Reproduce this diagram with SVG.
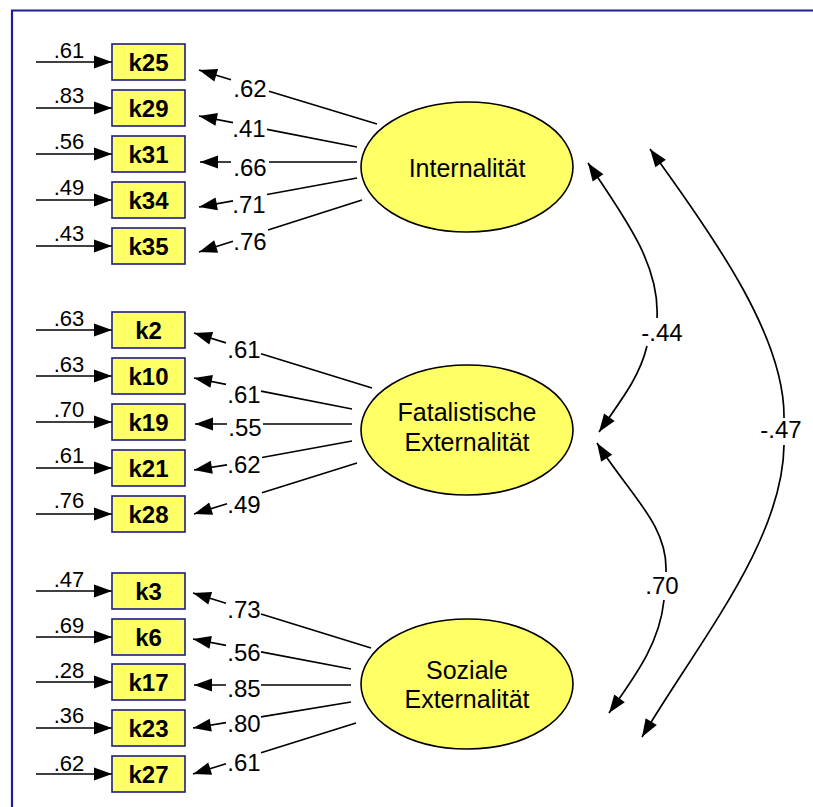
<svg xmlns="http://www.w3.org/2000/svg" width="813" height="807" viewBox="0 0 813 807">
<style>
.frame{fill:none;stroke:#1f1f9c;stroke-width:2.2}
.box{fill:#ffff66;stroke:#1c1c8c;stroke-width:1.6}
.ell{fill:#ffff66;stroke:#000;stroke-width:1.6}
.bt{font-family:"Liberation Sans",Arial,sans-serif;font-weight:bold;font-size:24px;text-anchor:middle;fill:#000}
.et{font-family:"Liberation Sans",Arial,sans-serif;font-size:25px;text-anchor:middle;fill:#000}
.ln{fill:none;stroke:#000;stroke-width:1.7}
.lbl{font-family:"Liberation Sans",Arial,sans-serif;font-size:24px;text-anchor:middle;fill:#000}
.elbl{font-family:"Liberation Sans",Arial,sans-serif;font-size:22px;text-anchor:middle;fill:#000}
.cl{font-family:"Liberation Sans",Arial,sans-serif;font-size:24px;text-anchor:middle;fill:#000}
</style>
<defs>
<marker id="ah" viewBox="-19 -8 20 16" refX="0" refY="0" markerWidth="20" markerHeight="16" orient="auto-start-reverse" markerUnits="userSpaceOnUse">
<path d="M0,0 L-18,-6.5 L-18,6.5 z" fill="#000"/>
</marker>
</defs>
<path class="frame" d="M12,807 L12,10.5 L813,10.5"/>

<g id="connectors">
<!-- error arrows -->
<g class="ln" marker-end="url(#ah)">
<path d="M36,62 H112"/><path d="M36,108 H112"/><path d="M36,154 H112"/><path d="M36,200 H112"/><path d="M36,246 H112"/>
<path d="M36,330 H112"/><path d="M36,376 H112"/><path d="M36,422 H112"/><path d="M36,468 H112"/><path d="M36,514 H112"/>
<path d="M36,591 H112"/><path d="M36,637 H112"/><path d="M36,682 H112"/><path d="M36,728 H112"/><path d="M36,774 H112"/>
</g>
<!-- loadings -->
<g class="ln" marker-end="url(#ah)">
<path d="M377,124 L269,91.2 M231,79.7 L199,70"/>
<path d="M357,147 L267,129.3 M233,122.7 L199,116"/>
<path d="M357,162 L269,162 M231,162 L200,162"/>
<path d="M357,178 L267,194.5 M233,200.8 L199,207"/>
<path d="M362,200 L268,230 M233,241.2 L199,252"/>

<path d="M372,388 L261,353.7 M226,342.9 L194,333"/>
<path d="M352,409 L261,391.1 M226,384.3 L194,378"/>
<path d="M352,424 L263,424 M227,424 L195,424"/>
<path d="M352,441 L262,457.5 M227,464.9 L194,470"/>
<path d="M357,463 L262,492.7 M227,503.7 L194,514"/>

<path d="M371,648 L261,614 M226,603.2 L193,593"/>
<path d="M351,669 L261,651.9 M226,645.3 L193,639"/>
<path d="M351,685 L261,685 M226,685 L194,685"/>
<path d="M351,702 L261,716.8 M226,722.6 L193,728"/>
<path d="M356,723 L261,752.7 M226,763.7 L193,774"/>
</g>
<!-- covariances -->
<g class="ln" marker-start="url(#ah)" marker-end="url(#ah)">
<path d="M588,163 C625,218 660,265 657,318 M647,346 C640,375 625,395 599,432"/>
<path d="M597,443 C630,495 668,525 666,572 M664,600 C660,640 640,670 609,713"/>
<path d="M650,149 C720,245 785,340 784,418 M784,445 C783,540 700,640 642,737"/>
</g>
<text class="cl" x="662" y="341">-.44</text>
<text class="cl" x="662" y="594">.70</text>
<text class="cl" x="781" y="438">-.47</text>
</g>

<!-- error labels -->
<g id="error-labels" class="elbl">
<text x="69" y="58">.61</text><text x="69" y="103">.83</text><text x="69" y="149">.56</text><text x="69" y="195">.49</text><text x="69" y="241">.43</text>
<text x="69" y="326">.63</text><text x="69" y="372">.63</text><text x="69" y="417">.70</text><text x="69" y="463">.61</text><text x="69" y="508">.76</text>
<text x="69" y="587">.47</text><text x="69" y="633">.69</text><text x="69" y="678">.28</text><text x="69" y="723">.36</text><text x="69" y="771">.62</text>
</g>

<!-- loading labels -->
<g id="loading-labels" class="lbl">
<text x="250" y="97">.62</text><text x="249" y="137">.41</text><text x="250" y="176">.66</text><text x="249" y="213">.71</text><text x="250" y="250">.76</text>
<text x="244" y="358">.61</text><text x="244" y="403">.61</text><text x="245" y="436">.55</text><text x="244" y="473">.62</text><text x="244" y="513">.49</text>
<text x="244" y="618">.73</text><text x="244" y="661">.56</text><text x="244" y="697">.85</text><text x="244" y="732">.80</text><text x="244" y="771">.61</text>
</g>

<!-- observed variables -->
<g id="k25"><rect class="box" x="112" y="44" width="73" height="36"/><text class="bt" x="148.5" y="70.5">k25</text></g>
<g id="k29"><rect class="box" x="112" y="90" width="73" height="36"/><text class="bt" x="148.5" y="116.5">k29</text></g>
<g id="k31"><rect class="box" x="112" y="136" width="73" height="36"/><text class="bt" x="148.5" y="162.5">k31</text></g>
<g id="k34"><rect class="box" x="112" y="182" width="73" height="36"/><text class="bt" x="148.5" y="208.5">k34</text></g>
<g id="k35"><rect class="box" x="112" y="228" width="73" height="36"/><text class="bt" x="148.5" y="254.5">k35</text></g>

<g id="k2"><rect class="box" x="112" y="312" width="73" height="36"/><text class="bt" x="148.5" y="338.5">k2</text></g>
<g id="k10"><rect class="box" x="112" y="358" width="73" height="36"/><text class="bt" x="148.5" y="384.5">k10</text></g>
<g id="k19"><rect class="box" x="112" y="404" width="73" height="36"/><text class="bt" x="148.5" y="430.5">k19</text></g>
<g id="k21"><rect class="box" x="112" y="450" width="73" height="36"/><text class="bt" x="148.5" y="476.5">k21</text></g>
<g id="k28"><rect class="box" x="112" y="496" width="73" height="36"/><text class="bt" x="148.5" y="522.5">k28</text></g>

<g id="k3"><rect class="box" x="112" y="573" width="73" height="36"/><text class="bt" x="148.5" y="599.5">k3</text></g>
<g id="k6"><rect class="box" x="112" y="619" width="73" height="36"/><text class="bt" x="148.5" y="645.5">k6</text></g>
<g id="k17"><rect class="box" x="112" y="664" width="73" height="36"/><text class="bt" x="148.5" y="690.5">k17</text></g>
<g id="k23"><rect class="box" x="112" y="710" width="73" height="36"/><text class="bt" x="148.5" y="736.5">k23</text></g>
<g id="k27"><rect class="box" x="112" y="756" width="73" height="36"/><text class="bt" x="148.5" y="782.5">k27</text></g>

<!-- latent variables -->
<g id="internalitaet"><ellipse class="ell" cx="467" cy="167" rx="106" ry="65"/><text class="et" x="467" y="177">Internalität</text></g>
<g id="fatalistische"><ellipse class="ell" cx="467" cy="430" rx="106" ry="65"/><text class="et" x="467" y="421">Fatalistische</text><text class="et" x="467" y="451">Externalität</text></g>
<g id="soziale"><ellipse class="ell" cx="467" cy="684" rx="106" ry="65"/><text class="et" x="467" y="679">Soziale</text><text class="et" x="467" y="708">Externalität</text></g>
</svg>
